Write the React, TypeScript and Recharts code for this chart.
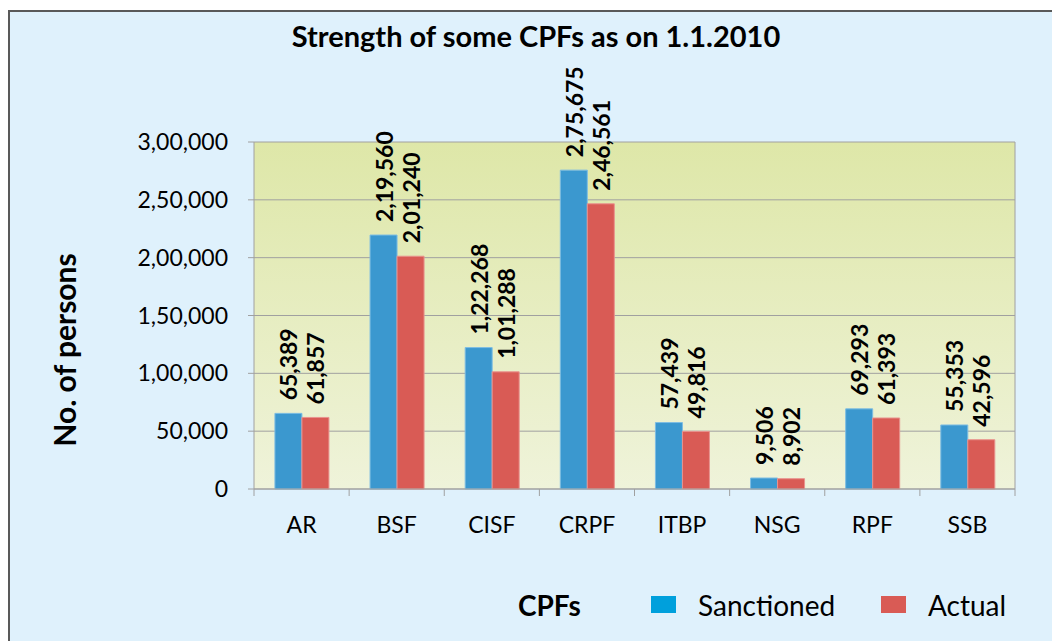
import React from "react";
import {
  BarChart,
  Bar,
  XAxis,
  YAxis,
  CartesianGrid,
  LabelList,
} from "recharts";

const FORCES = ["AR", "BSF", "CISF", "CRPF", "ITBP", "NSG", "RPF", "SSB"];
const SANCTIONED = [65389, 219560, 122268, 275675, 57439, 9506, 69293, 55353];
const ACTUAL = [61857, 201240, 101288, 246561, 49816, 8902, 61393, 42596];
const Y_TICKS = [0, 50000, 100000, 150000, 200000, 250000, 300000];

const BLUE = "#3b98cf";
const RED = "#d95b55";
const FONT = "Lato, 'Open Sans', sans-serif";

const PLOT_LEFT = 254;
const PLOT_RIGHT = 1015;
const BAND = (PLOT_RIGHT - PLOT_LEFT) / FORCES.length;

const data = FORCES.map((name, i) => ({
  name,
  sanctioned: SANCTIONED[i],
  actual: ACTUAL[i],
}));

// Indian digit grouping: 2,19,560
const indian = (n: number) => {
  const s = String(Math.round(n));
  if (s.length <= 3) return s;
  const last3 = s.slice(-3);
  const rest = s.slice(0, -3).replace(/\B(?=(\d{2})+(?!\d))/g, ",");
  return rest + "," + last3;
};

const BarLabel = (props: any) => {
  const { x, y, width, value } = props;
  const cx = x + width / 2;
  const cy = y - 13;
  return (
    <text
      x={cx}
      y={cy}
      transform={`rotate(-90 ${cx} ${cy})`}
      textAnchor="start"
      dominantBaseline="central"
      fontFamily={FONT}
      fontWeight="bold"
      fontSize={23}
      fill="#000"
    >
      {indian(value)}
    </text>
  );
};

const CategoryTick = (props: any) => {
  const { x, y, payload, index } = props;
  const left = x - BAND / 2;
  return (
    <g>
      <line x1={left} y1={y} x2={left} y2={y + 7} stroke="#a0a0a0" />
      {index === FORCES.length - 1 && (
        <line x1={x + BAND / 2} y1={y} x2={x + BAND / 2} y2={y + 7} stroke="#a0a0a0" />
      )}
      <text
        x={x}
        y={y + 44}
        textAnchor="middle"
        fontFamily={FONT}
        fontSize={23}
        fill="#000"
      >
        {payload.value}
      </text>
    </g>
  );
};

const LegendItem = ({ color, label, left }: { color: string; label: string; left: number }) => (
  <>
    <div
      style={{
        position: "absolute",
        left,
        top: 596,
        width: 25,
        height: 17,
        background: color,
      }}
    />
    <div
      style={{
        position: "absolute",
        left: left + 47,
        top: 588,
        fontFamily: FONT,
        fontSize: 28,
        lineHeight: "34px",
        color: "#000",
      }}
    >
      {label}
    </div>
  </>
);

export default function App() {
  return (
    <div
      style={{
        position: "fixed",
        left: 0,
        top: 0,
        width: 1052,
        height: 641,
        overflow: "hidden",
        background: "#fff",
      }}
    >
      <div
        style={{
          position: "absolute",
          left: 8,
          top: 10,
          width: 1100,
          height: 700,
          border: "2px solid #595959",
          background: "#dff1fc",
        }}
      />
      <div
        style={{
          position: "absolute",
          left: 0,
          width: 1072,
          top: 19,
          textAlign: "center",
          fontFamily: FONT,
          fontWeight: "bold",
          fontSize: 29,
          lineHeight: "34px",
          color: "#000",
        }}
      >
        Strength of some CPFs as on 1.1.2010
      </div>
      <div
        style={{
          position: "absolute",
          left: 64 - 150,
          top: 350 - 17,
          width: 300,
          textAlign: "center",
          transform: "rotate(-90deg)",
          fontFamily: FONT,
          fontWeight: "bold",
          fontSize: 30,
          lineHeight: "34px",
          color: "#000",
        }}
      >
        No. of persons
      </div>
      <div style={{ position: "absolute", left: 0, top: 0 }}>
        <BarChart
          width={1052}
          height={641}
          data={data}
          margin={{ top: 142, right: 1052 - PLOT_RIGHT, bottom: 0, left: 0 }}
          barCategoryGap="22%"
          barGap={0}
        >
          <defs>
            <linearGradient id="plotBg" x1="0" y1="0" x2="0" y2="1">
              <stop offset="0%" stopColor="#dee7a8" />
              <stop offset="100%" stopColor="#eff3da" />
            </linearGradient>
          </defs>
          <CartesianGrid
            fill="url(#plotBg)"
            fillOpacity={1}
            stroke="#a0a0a0"
            verticalCoordinatesGenerator={({ offset }: any) => [
              offset.left + offset.width,
            ]}
          />
          <XAxis
            dataKey="name"
            height={152}
            axisLine={{ stroke: "#a0a0a0" }}
            tickLine={false}
            tickSize={0}
            tickMargin={0}
            interval={0}
            tick={<CategoryTick />}
          />
          <YAxis
            width={PLOT_LEFT}
            domain={[0, 300000]}
            ticks={Y_TICKS}
            interval={0}
            axisLine={{ stroke: "#a0a0a0" }}
            tickLine={{ stroke: "#a0a0a0" }}
            tickSize={6}
            tickMargin={20}
            tickFormatter={indian}
            tick={{ fontFamily: FONT, fontSize: 23, fill: "#000" }}
          />
          <Bar
            dataKey="sanctioned"
            fill={BLUE}
            stroke="#7dbde3"
            strokeWidth={1}
            isAnimationActive={false}
          >
            <LabelList dataKey="sanctioned" content={<BarLabel />} />
          </Bar>
          <Bar
            dataKey="actual"
            fill={RED}
            stroke="#e9928e"
            strokeWidth={1}
            isAnimationActive={false}
          >
            <LabelList dataKey="actual" content={<BarLabel />} />
          </Bar>
        </BarChart>
      </div>
      <div
        style={{
          position: "absolute",
          left: 518,
          top: 588,
          fontFamily: FONT,
          fontWeight: "bold",
          fontSize: 28,
          lineHeight: "34px",
          color: "#000",
        }}
      >
        CPFs
      </div>
      <LegendItem color="#00a0dc" label="Sanctioned" left={651} />
      <LegendItem color={RED} label="Actual" left={881} />
    </div>
  );
}
